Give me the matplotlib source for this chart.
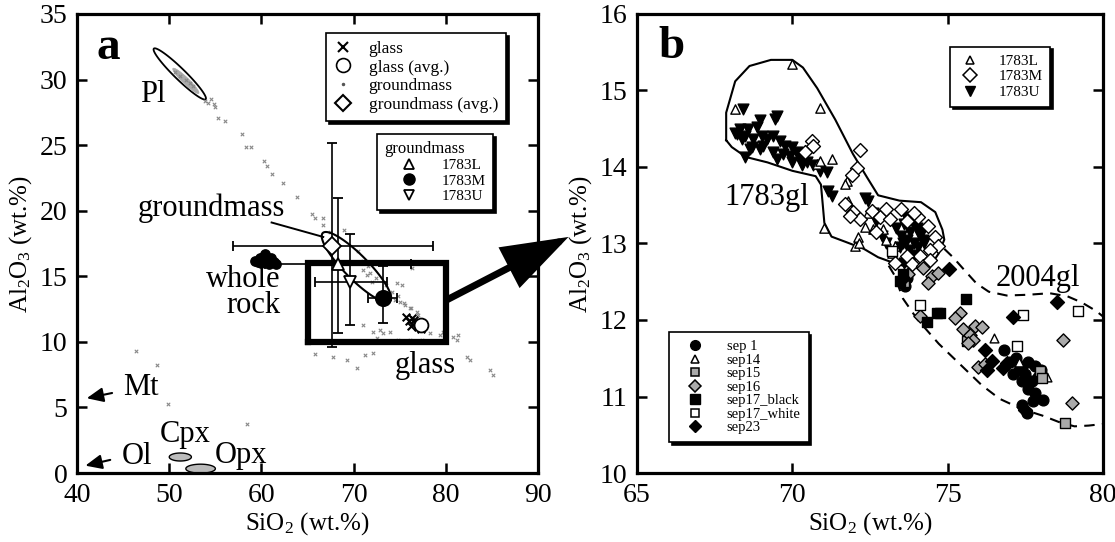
import numpy as np
import matplotlib
matplotlib.use("Agg")
import matplotlib.pyplot as plt
from matplotlib.lines import Line2D

plt.rcParams['font.family'] = ['Liberation Serif', 'DejaVu Serif']
plt.rcParams['mathtext.fontset'] = 'custom'
plt.rcParams['mathtext.rm'] = 'Liberation Serif'
plt.rcParams['mathtext.it'] = 'Liberation Serif:italic'
plt.rcParams['mathtext.bf'] = 'Liberation Serif:bold'

# ================= Panel a data =================
# groundmass analyses (small grey points)
gm_x = [50.6, 51.2, 51.8, 52.3, 52.6, 53.9, 54.2, 54.5, 54.8, 55.0, 55.33, 56.05, 57.86, 58.33, 58.84,
        60.28, 60.64, 61.18, 62.31, 63.83, 65.46, 65.8, 66.65, 66.7, 67.44, 69.0, 70.5, 71.0, 71.05,
        71.42, 71.78, 71.6, 72.0, 72.4, 73.5, 74.67, 75.22, 73.95, 74.49, 75.03, 75.57, 76.12, 76.84,
        77.0, 76.3, 76.12, 71.05, 72.14, 72.86, 73.22, 73.95, 72.5, 79.73, 80.81, 81.18, 81.36, 82.27,
        82.63, 84.8, 85.15, 69.25, 70.34, 71.24, 72.14, 67.8, 78.29, 79.37, 74.85, 77.39, 65.78, 64.9,
        46.4, 48.64, 49.9, 58.47, 74.2, 74.8, 75.5, 76.2]
gm_y = [30.6, 30.3, 30.0, 29.7, 29.5, 28.4, 28.2, 28.5, 28.1, 27.9, 27.06, 26.87, 25.86, 24.89, 24.89,
        23.82, 23.44, 22.81, 22.1, 21.08, 19.76, 19.43, 19.43, 18.92, 18.4, 18.5, 16.9, 16.2, 15.48,
        15.1, 15.23, 15.8, 14.6, 14.9, 14.3, 14.47, 14.34, 13.71, 13.2, 13.07, 12.81, 12.56, 12.3,
        12.05, 15.61, 10.14, 11.29, 10.78, 10.91, 10.66, 10.78, 10.27, 10.78, 10.4, 10.14, 10.53, 8.87,
        8.62, 7.86, 7.48, 8.62, 7.99, 9.0, 9.13, 8.87, 10.66, 10.53, 10.14, 10.14, 9.08, 10.5,
        9.3, 8.24, 5.24, 3.71, 13.8, 13.5, 13.0, 12.6]
# whole rock
wr_x = [59.3, 59.8, 60.2, 60.6, 61.0, 61.4, 60.0, 60.8, 61.6, 59.6, 60.4]
wr_y = [16.2, 16.4, 16.5, 16.3, 16.4, 16.1, 16.0, 15.95, 15.9, 16.1, 16.7]
# glass analyses
gl_x = [75.7, 76.0, 76.3, 76.6, 76.9, 76.2, 77.0, 76.5, 77.3]
gl_y = [11.9, 11.6, 11.8, 11.4, 11.5, 11.2, 11.1, 11.7, 11.0]
# averages with 1 sigma ranges
glass_avg = (77.3, 11.3)
gm_avg = (67.7, 17.3, 56.9, 78.6, 9.6, 25.2)        # x, y, xmin, xmax, ymin, ymax
l_avg = (68.3, 15.9, 60.4, 76.2, 10.7, 21.0)
m_avg = (73.2, 13.35, 71.6, 74.7, 11.45, 15.8)
u_avg = (69.6, 14.6, 65.8, 73.6, 11.3, 18.2)
# mineral fields: center, end of major axis (data), half minor axis (px)
pl_field = ((51.14, 30.43), (53.95, 28.5), 5.5)
pl_core = ((51.8, 29.9), (53.2, 28.95), 3.2)
gm_field = ((70.3, 15.7), (73.95, 13.1), 12.0)
cpx_field = ((51.2, 1.22), (52.4, 1.22), 4.0)
opx_field = ((53.4, 0.33), (55.0, 0.33), 4.5)
zoom_box = (65, 80, 10, 16)

# ================= Panel b data =================
L_x = [69.98, 68.15, 70.89, 71.27, 70.78, 71.75, 71.70, 72.02, 72.12, 72.34, 72.61, 72.93, 73.20,
       73.30, 71.03, 72.13, 71.80, 74.70, 70.89, 72.45, 73.0]
L_y = [15.35, 14.76, 14.77, 14.10, 14.04, 13.82, 13.78, 12.97, 13.08, 13.21, 13.19, 13.19, 12.88,
       12.97, 13.20, 13.00, 13.55, 13.00, 14.08, 13.40, 13.05]
M_x = [70.62, 70.67, 70.41, 72.18, 72.07, 71.91, 71.70, 71.96, 72.55, 72.82, 73.14, 73.68, 74.05,
       74.38, 74.59, 74.70, 74.43, 74.11, 73.68, 73.30, 73.84, 74.21, 74.43, 72.18, 71.86, 73.5,
       73.9, 72.7, 73.0]
M_y = [14.34, 14.28, 14.19, 14.22, 13.99, 13.89, 13.51, 13.41, 13.43, 13.34, 13.32, 13.30, 13.34,
       13.23, 13.08, 12.97, 12.92, 12.84, 12.84, 12.75, 12.73, 12.71, 12.79, 13.32, 13.36, 13.45,
       13.40, 13.15, 13.45]
U_x = [68.42, 68.32, 68.58, 68.85, 68.96, 69.44, 69.50, 68.21, 68.48, 68.74, 69.01, 69.17, 69.39,
       69.60, 69.76, 69.98, 68.37, 68.69, 69.07, 69.39, 69.71, 69.92, 70.14, 70.25, 70.46, 70.67,
       70.89, 71.11, 68.64, 68.96, 69.50, 69.98, 70.30, 71.16, 71.27, 68.48, 68.15,
       72.34, 72.45, 72.7, 72.9, 73.0, 73.35, 73.5, 73.6, 73.7, 73.8, 73.9, 74.0, 74.1, 74.2,
       73.45, 73.65, 73.85, 74.05, 74.25, 73.55, 73.75, 73.95, 74.15, 73.6, 73.9, 72.6]
U_y = [14.76, 14.50, 14.50, 14.52, 14.61, 14.63, 14.66, 14.43, 14.41, 14.37, 14.41, 14.37, 14.41,
       14.34, 14.28, 14.26, 14.37, 14.26, 14.28, 14.19, 14.17, 14.15, 14.19, 14.10, 14.06, 14.02,
       13.95, 13.93, 14.24, 14.24, 14.10, 14.06, 14.02, 13.69, 13.62, 14.13, 14.45,
       13.60, 13.56, 13.30, 13.10, 13.00, 13.20, 13.10, 13.25, 13.05, 13.15, 13.00, 13.20, 13.10, 13.05,
       12.95, 13.35, 13.30, 12.95, 13.00, 13.00, 12.92, 13.25, 13.15, 12.75, 12.85, 13.40]
s1_x = [76.8, 77.0, 77.2, 77.4, 77.6, 77.8, 78.0, 77.1, 77.3, 77.5, 77.7, 77.9, 77.4, 77.6, 77.8,
        78.07, 77.38, 77.76, 77.54, 73.62, 73.7]
s1_y = [11.61, 11.45, 11.50, 11.40, 11.45, 11.40, 11.35, 11.30, 11.35, 11.30, 11.20, 11.25, 11.20,
        11.10, 11.05, 10.96, 10.89, 10.94, 10.78, 12.45, 12.55]
s14_x = [76.5, 77.3, 78.2]
s14_y = [11.77, 11.45, 11.25]
s15_x = [75.61, 77.97, 78.03, 78.78, 73.6]
s15_y = [11.72, 11.33, 11.24, 10.65, 12.50]
s16_x = [75.4, 75.24, 75.5, 75.72, 75.88, 76.1, 75.82, 75.66, 75.98, 76.2, 74.11, 78.7, 78.99,
         73.73, 74.21, 74.48, 74.7, 74.38]
s16_y = [12.09, 12.03, 11.88, 11.81, 11.92, 11.91, 11.74, 11.70, 11.39, 11.42, 12.05, 11.74, 10.92,
         12.60, 12.68, 12.57, 12.62, 12.49]
s17b_x = [75.59, 74.32, 74.65, 74.75, 73.47, 73.57]
s17b_y = [12.28, 11.98, 12.09, 12.09, 12.51, 12.60]
s17w_x = [74.11, 77.43, 77.24, 79.2, 73.2]
s17w_y = [12.19, 12.06, 11.66, 12.12, 12.90]
s23_x = [75.05, 77.11, 78.53, 76.2, 76.42, 76.26, 76.79, 76.9, 77.5, 73.55]
s23_y = [12.67, 12.04, 12.23, 11.61, 11.46, 11.35, 11.37, 11.44, 10.82, 12.55]
# compositional fields
f1783_x = [67.87, 67.87, 68.16, 68.62, 69.31, 70.0, 70.34, 70.80, 71.38, 71.95, 72.41, 72.76, 73.45,
           74.14, 74.60, 74.83, 74.89, 74.71, 74.48, 74.02, 73.56, 73.10, 72.76, 72.30, 71.72, 71.26,
           71.03, 70.98, 70.92, 70.75, 70.0, 69.20, 68.51, 68.05, 67.87]
f1783_y = [14.35, 14.71, 15.12, 15.32, 15.40, 15.40, 15.30, 15.03, 14.62, 14.17, 13.86, 13.63, 13.56,
           13.54, 13.41, 13.18, 13.05, 12.87, 12.73, 12.68, 12.71, 12.77, 12.82, 12.93, 13.02, 13.09,
           13.27, 13.50, 13.77, 13.88, 13.95, 14.06, 14.13, 14.26, 14.35]
f2004_lo_x = [73.10, 73.28, 73.56, 74.02, 74.71, 75.40, 76.09, 76.67, 77.36, 78.05, 78.62, 79.08, 79.54, 80.2]
f2004_lo_y = [12.71, 12.59, 12.28, 12.01, 11.69, 11.42, 11.15, 10.97, 10.84, 10.75, 10.66, 10.61, 10.62, 10.65]
f2004_hi_x = [74.89, 75.17, 75.52, 75.92, 76.32, 76.90, 77.59, 78.28, 78.85, 79.31, 79.77, 80.2]
f2004_hi_y = [12.93, 12.82, 12.66, 12.48, 12.37, 12.32, 12.33, 12.35, 12.31, 12.23, 12.12, 11.98]

# ================= Figure =================
fig = plt.figure(figsize=(11.15, 5.42), dpi=100)
axa = fig.add_axes([0.0691, 0.1273, 0.4135, 0.8469])
axb = fig.add_axes([0.5713, 0.1273, 0.418, 0.8469])

axa.set_xlim(40, 90); axa.set_ylim(0, 35)
axb.set_xlim(65, 80); axb.set_ylim(10, 16)
axa.set_xticks(range(40, 91, 10)); axa.set_yticks(range(0, 36, 5))
axb.set_xticks(range(65, 81, 5)); axb.set_yticks(range(10, 17, 1))

for ax in (axa, axb):
    for sp in ax.spines.values():
        sp.set_linewidth(2.3)
    ax.tick_params(direction='in', length=7, width=1.8, top=True, right=True,
                   labelsize=20, pad=7)
    ax.set_xlabel(r'SiO$_2$ (wt.%)', fontsize=18, labelpad=2)
    ax.set_ylabel(r'Al$_2$O$_3$ (wt.%)', fontsize=18, labelpad=4)


def field(ax, spec, **kw):
    (cx, cy), (ex, ey), half_px = spec
    T = ax.transData
    c = T.transform((cx, cy)); e = T.transform((ex, ey))
    u = e - c
    n = np.array([-u[1], u[0]]) / np.hypot(*u) * half_px
    t = np.linspace(0, 2 * np.pi, 240)
    pts = c + np.outer(np.cos(t), u) + np.outer(np.sin(t), n)
    d = T.inverted().transform(pts)
    ax.fill(d[:, 0], d[:, 1], **kw)


# ---------- panel a ----------
field(axa, pl_field, facecolor='white', edgecolor='k', lw=1.3, zorder=2)
field(axa, pl_core, facecolor='#aaaaaa', edgecolor='#aaaaaa', lw=0.5, zorder=2)
field(axa, cpx_field, facecolor='#bbbbbb', edgecolor='k', lw=1.0, zorder=2)
field(axa, opx_field, facecolor='#bbbbbb', edgecolor='k', lw=1.0, zorder=2)
field(axa, gm_field, facecolor='none', edgecolor='k', lw=1.5, zorder=4)

axa.scatter(gm_x, gm_y, marker='x', s=6, c='#888888', lw=0.8, zorder=3)
axa.scatter(wr_x, wr_y, marker='o', s=45, c='k', zorder=4)
axa.scatter(gl_x, gl_y, marker='x', s=30, c='k', lw=1.5, zorder=5)

bx0, bx1, by0, by1 = zoom_box
axa.plot([bx0, bx1, bx1, bx0, bx0], [by0, by0, by1, by1, by0], color='k', lw=4.5,
         solid_joinstyle='miter', zorder=3)

for (x, y, x0, x1, y0, y1), mk, fc in [(gm_avg, 'D', 'white'), (l_avg, '^', 'white'),
                                       (u_avg, 'v', 'white'), (m_avg, 'o', 'k')]:
    axa.errorbar([x], [y], xerr=[[x - x0], [x1 - x]], yerr=[[y - y0], [y1 - y]], fmt=mk,
                 ms=9 if mk != 'o' else 11, mfc=fc, mec='k', mew=1.3, ecolor='k', elinewidth=1.2,
                 capsize=3.5, capthick=1.2, zorder=6)
axa.plot([glass_avg[0]], [glass_avg[1]], 'o', ms=10, mfc='white', mec='k', mew=1.3, zorder=6)

# labels
lab_kw = dict(fontsize=22, ha='left', va='baseline', zorder=7)
axa.text(46.8, 28.3, 'Pl', **lab_kw)
axa.text(46.6, 19.6, 'groundmass', **lab_kw)
axa.text(62.1, 14.2, 'whole', fontsize=22, ha='right', va='baseline')
axa.text(62.1, 12.2, 'rock', fontsize=22, ha='right', va='baseline')
axa.text(74.5, 7.6, 'glass', **lab_kw)
axa.text(45.0, 5.97, 'Mt', **lab_kw)
axa.text(49.0, 2.37, 'Cpx', **lab_kw)
axa.text(44.8, 0.66, 'Ol', **lab_kw)
axa.text(54.9, 0.75, 'Opx', **lab_kw)
axa.text(42.1, 31.6, 'a', fontsize=34, fontweight='bold', ha='left', va='baseline')
axa.plot([61.1, 66.7], [19.1, 18.0], color='k', lw=1.4, zorder=5)

arr = dict(arrowstyle='-|>,head_length=0.5,head_width=0.22', color='k', lw=1.5,
           shrinkA=0, shrinkB=0, mutation_scale=20)
axa.annotate('', xy=(41.05, 5.7), xytext=(43.8, 6.1), arrowprops=arr)
axa.annotate('', xy=(40.9, 0.56), xytext=(43.6, 1.0), arrowprops=arr)
axa.annotate('', xy=(93.3, 18.0), xytext=(80.1, 13.2), annotation_clip=False,
             arrowprops=dict(arrowstyle='-|>,head_length=1.9,head_width=0.65', color='k', lw=5,
                             shrinkA=0, shrinkB=0, mutation_scale=20, joinstyle='miter'))

shadow = {'facecolor': 'k', 'edgecolor': 'k', 'alpha': 1}
h1 = [Line2D([], [], ls='none', marker='x', color='k', ms=7, mew=1.5),
      Line2D([], [], ls='none', marker='o', mfc='white', mec='k', ms=10, mew=1.2),
      Line2D([], [], ls='none', marker='.', color='#555555', ms=3),
      Line2D([], [], ls='none', marker='D', mfc='white', mec='k', ms=8, mew=1.5)]
leg1 = axa.legend(h1, ['glass', 'glass (avg.)', 'groundmass', 'groundmass (avg.)'],
                  loc='upper left', bbox_to_anchor=(0.54, 0.959), borderaxespad=0, fontsize=12.5,
                  handlelength=1.0, handletextpad=1.0, labelspacing=0.15, borderpad=0.45,
                  fancybox=False, edgecolor='k', framealpha=1, shadow=shadow)
leg1.get_frame().set_linewidth(1.2)
axa.add_artist(leg1)
h2 = [Line2D([], [], ls='none', marker='^', mfc='white', mec='k', ms=7, mew=1.3),
      Line2D([], [], ls='none', marker='o', color='k', ms=8),
      Line2D([], [], ls='none', marker='v', mfc='white', mec='k', ms=7, mew=1.3)]
leg2 = axa.legend(h2, ['1783L', '1783M', '1783U'], title='groundmass', title_fontsize=12,
                  alignment='left', loc='upper left', bbox_to_anchor=(0.651, 0.739),
                  borderaxespad=0, fontsize=11, handlelength=3.2, handletextpad=0.6,
                  labelspacing=0.12, borderpad=0.45, fancybox=False, edgecolor='k', framealpha=1,
                  shadow=shadow)
leg2.get_frame().set_linewidth(1.2)

# ---------- panel b ----------
axb.plot(f1783_x, f1783_y, color='k', lw=1.5, zorder=2)
axb.plot(f2004_lo_x, f2004_lo_y, color='k', lw=1.5, ls=(0, (5, 3.5)), zorder=2)
axb.plot(f2004_hi_x, f2004_hi_y, color='k', lw=1.5, ls=(0, (5, 3.5)), zorder=2)

axb.scatter(U_x, U_y, marker='v', s=60, c='k', zorder=3)
axb.scatter(L_x, L_y, marker='^', s=45, facecolors='white', edgecolors='k', lw=1.0, zorder=4)
axb.scatter(M_x, M_y, marker='D', s=50, facecolors='white', edgecolors='k', lw=1.0, zorder=4)
axb.scatter(s1_x, s1_y, marker='o', s=60, c='k', zorder=5)
axb.scatter(s14_x, s14_y, marker='^', s=40, facecolors='white', edgecolors='k', lw=1.0, zorder=5)
axb.scatter(s15_x, s15_y, marker='s', s=50, facecolors='#aaaaaa', edgecolors='k', lw=1.0, zorder=5)
axb.scatter(s16_x, s16_y, marker='D', s=45, facecolors='#aaaaaa', edgecolors='k', lw=1.0, zorder=5)
axb.scatter(s17b_x, s17b_y, marker='s', s=60, c='k', zorder=5)
axb.scatter(s17w_x, s17w_y, marker='s', s=55, facecolors='white', edgecolors='k', lw=1.0, zorder=5)
axb.scatter(s23_x, s23_y, marker='D', s=50, c='k', zorder=5)

axb.text(67.82, 13.5, '1783gl', fontsize=22, ha='left', va='baseline')
axb.text(76.55, 12.45, '2004gl', fontsize=22, ha='left', va='baseline')
axb.text(65.7, 15.43, 'b', fontsize=34, fontweight='bold', ha='left', va='baseline')

h3 = [Line2D([], [], ls='none', marker='^', mfc='white', mec='k', ms=6, mew=1.1),
      Line2D([], [], ls='none', marker='D', mfc='white', mec='k', ms=7, mew=1.1),
      Line2D([], [], ls='none', marker='v', color='k', ms=7)]
leg3 = axb.legend(h3, ['1783L', '1783M', '1783U'], loc='upper left', bbox_to_anchor=(0.671, 0.929),
                  borderaxespad=0, fontsize=11, handlelength=1.6, handletextpad=1.1,
                  labelspacing=0.12, borderpad=0.5, fancybox=False, edgecolor='k', framealpha=1,
                  shadow=shadow)
leg3.get_frame().set_linewidth(1.2)
axb.add_artist(leg3)
h4 = [Line2D([], [], ls='none', marker='o', color='k', ms=7),
      Line2D([], [], ls='none', marker='^', mfc='white', mec='k', ms=6, mew=1.1),
      Line2D([], [], ls='none', marker='s', mfc='#aaaaaa', mec='k', ms=6, mew=1.1),
      Line2D([], [], ls='none', marker='D', mfc='#aaaaaa', mec='k', ms=6, mew=1.1),
      Line2D([], [], ls='none', marker='s', color='k', ms=6.5),
      Line2D([], [], ls='none', marker='s', mfc='white', mec='k', ms=6, mew=1.1),
      Line2D([], [], ls='none', marker='D', color='k', ms=6.5)]
leg4 = axb.legend(h4, ['sep 1', 'sep14', 'sep15', 'sep16', 'sep17_black', 'sep17_white', 'sep23'],
                  loc='upper left', bbox_to_anchor=(0.069, 0.307), borderaxespad=0, fontsize=10.5,
                  handlelength=2.4, handletextpad=1.0, labelspacing=0.02, borderpad=0.55,
                  fancybox=False, edgecolor='k', framealpha=1, shadow=shadow)
leg4.get_frame().set_linewidth(1.2)

fig.savefig('out.png', dpi=100)
